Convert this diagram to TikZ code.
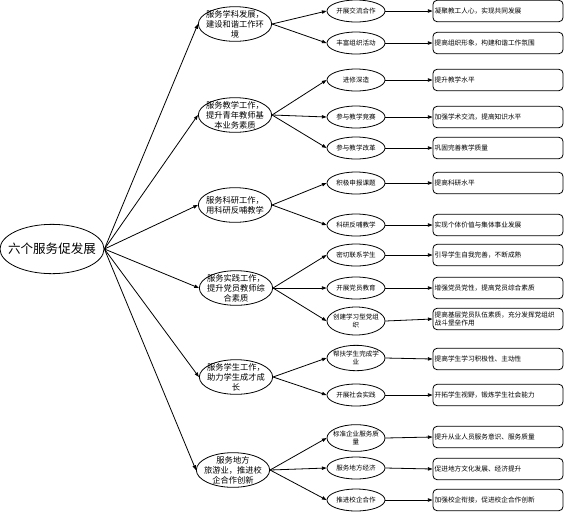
\documentclass[tikz,border=0pt]{standalone}
\usepackage{fontspec}
\newfontfamily\cjk{Noto Sans CJK SC}
\usetikzlibrary{shapes.geometric,arrows.meta}

\tikzset{every picture/.style={line width=0.6pt}}
\tikzset{
  rootell/.style={draw, ellipse, inner sep=-8pt, minimum width=78pt, minimum height=37pt, font=\cjk\fontsize{9.4}{11}\selectfont},
  srvell/.style={draw, ellipse, inner sep=-8pt, minimum width=55pt, minimum height=26pt, align=center, font=\cjk\fontsize{6.2}{7.4}\selectfont},
  actell/.style={draw, ellipse, inner sep=-6pt, minimum width=43.5pt, minimum height=16.5pt, align=center, font=\cjk\fontsize{4.9}{6}\selectfont},
  resbox/.style={draw, rounded corners=3pt, inner sep=1pt, minimum width=97.5pt, minimum height=16pt, text width=95pt, align=left, font=\cjk\fontsize{5}{6.5}\selectfont},
  link/.style={-{Triangle[length=3.5pt,width=2.5pt]}},
}

\begin{document}
\begin{tikzpicture}[x=0.75pt,y=0.75pt,yscale=-1,xscale=1]
\useasboundingbox (0,0) rectangle (564,512);

%Shape: Ellipse
\node [rootell] (root) at (52,249) {六个服务促发展};

%Shape: Ellipse
\node [srvell] (srv1) at (235,24) {服务学科发展，\\建设和谐工作环\\境};
\node [srvell] (srv2) at (235,115) {服务教学工作，\\提升青年教师基\\本业务素质};
\node [srvell] (srv3) at (235,205) {服务科研工作，\\用科研反哺教学};
\node [srvell] (srv4) at (236,288) {服务实践工作，\\提升党员教师综\\合素质};
\node [srvell] (srv5) at (236,377) {服务学生工作，\\助力学生成才成\\长};
\node [srvell] (srv6) at (233,470) {服务地方\\旅游业，推进校\\企合作创新};

%Shape: Ellipse
\node [actell] (act11) at (356,11) {开展交流合作};
\node [actell] (act12) at (356,43) {丰富组织活动};
\node [actell] (act21) at (356,80) {进修深造};
\node [actell] (act22) at (356,117) {参与教学竞赛};
\node [actell] (act23) at (356,148) {参与教学改革};
\node [actell] (act31) at (356,183) {积极申报课题};
\node [actell] (act32) at (356,225) {科研反哺教学};
\node [actell] (act41) at (356,255) {密切联系学生};
\node [actell] (act42) at (356,288) {开展党员教育};
\node [actell, minimum height=21pt] (act43) at (356,321) {创建学习型党组\\织};
\node [actell, minimum height=19pt] (act51) at (356,358) {帮扶学生完成学\\业};
\node [actell] (act52) at (356,395) {开展社会实践};
\node [actell, minimum height=20pt] (act61) at (356,438) {标准企业服务质\\量};
\node [actell] (act62) at (356,468) {服务地方经济};
\node [actell] (act63) at (356,500) {推进校企合作};

%Shape: Rounded Rect
\node [resbox] (res11) at (498,11) {凝聚教工人心，实现共同发展};
\node [resbox] (res12) at (498,43) {提高组织形象，构建和谐工作氛围};
\node [resbox] (res21) at (498,80) {提升教学水平};
\node [resbox] (res22) at (498,117) {加强学术交流，提高知识水平};
\node [resbox] (res23) at (498,148) {巩固完善教学质量};
\node [resbox] (res31) at (498,183) {提高科研水平};
\node [resbox] (res32) at (498,225) {实现个体价值与集体事业发展};
\node [resbox] (res41) at (498,255) {引导学生自我完善，不断成熟};
\node [resbox] (res42) at (498,288) {增强党员党性，提高党员综合素质};
\node [resbox] (res43) at (498,319) {提高基层党员队伍素质，充分发挥党组织\\战斗堡垒作用};
\node [resbox] (res51) at (498,359) {提高学生学习积极性、主动性};
\node [resbox] (res52) at (498,395) {开拓学生视野，锻炼学生社会能力};
\node [resbox] (res61) at (498,437) {提升从业人员服务意识、服务质量};
\node [resbox] (res62) at (498,469) {促进地方文化发展、经济提升};
\node [resbox] (res63) at (498,500) {加强校企衔接，促进校企合作创新};

%Straight Lines
\foreach \s in {1,...,6}
  \draw [link] (root.east) -- (srv\s.west);

%Straight Lines
\draw [link] (srv1.east) -- (act11.west);
\draw [link] (srv1.east) -- (act12.west);
\draw [link] (srv2.east) -- (act21.west);
\draw [link] (srv2.east) -- (act22.west);
\draw [link] (srv2.east) -- (act23.west);
\draw [link] (srv3.east) -- (act31.west);
\draw [link] (srv3.east) -- (act32.west);
\draw [link] (srv4.east) -- (act41.west);
\draw [link] (srv4.east) -- (act42.west);
\draw [link] (srv4.east) -- (act43.west);
\draw [link] (srv5.east) -- (act51.west);
\draw [link] (srv5.east) -- (act52.west);
\draw [link] (srv6.east) -- (act61.west);
\draw [link] (srv6.east) -- (act62.west);
\draw [link] (srv6.east) -- (act63.west);

%Straight Lines
\foreach \a in {11,12,21,22,23,31,32,41,42,43,51,52,61,62,63}
  \draw [link] (act\a.east) -- (res\a.west);

\end{tikzpicture}
\end{document}
